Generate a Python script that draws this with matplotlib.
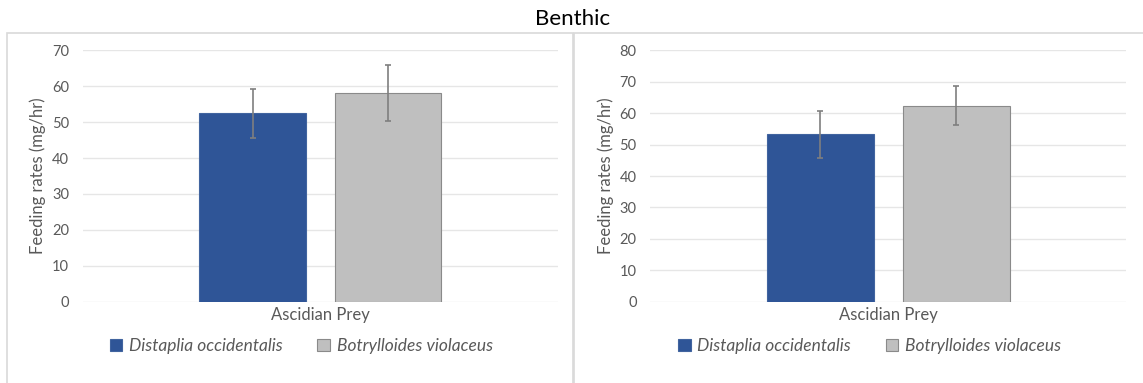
import matplotlib
matplotlib.use("Agg")
import matplotlib.pyplot as plt
import matplotlib.patches as patches
import numpy as np

plt.rcParams['font.family'] = ['Lato', 'DejaVu Sans']

# data
categories = ["Ascidian Prey"]
species = ["Distaplia occidentalis", "Botrylloides violaceus"]
left_means = [52.5, 58.0]
left_err = [6.8, 7.8]
right_means = [53.3, 62.3]
right_err = [7.5, 6.2]
left_ylim = 70
right_ylim = 80

bar_colors = ["#2f5597", "#bfbfbf"]
edge_colors = ["#41649f", "#8a8a8a"]
text_color = "#595959"

fig = plt.figure(figsize=(11.43, 3.83), dpi=100)
W, H = 1143, 383

# panel frames
fig.patches.append(patches.Rectangle((7 / W, -0.1), (573 - 7) / W, 1 - 33 / H + 0.1,
                                     transform=fig.transFigure, fill=False,
                                     edgecolor="#d9d9d9", linewidth=1.2))
fig.patches.append(patches.Rectangle((573.7 / W, -0.1), 0.6, 1 - 33 / H + 0.1,
                                     transform=fig.transFigure, fill=False,
                                     edgecolor="#d9d9d9", linewidth=1.2))

fig.text(573 / W, 1 - 19 / H, "Benthic", ha="center", va="center", fontsize=16, color="black")

bottom = 1 - 301.7 / H
height = 251.4 / H
ax_l = fig.add_axes([83 / W, bottom, 474.5 / W, height])
ax_r = fig.add_axes([650.4 / W, bottom, 475.9 / W, height])

width = 0.2246
offset = 0.1427

for ax, means, errs, ylim, leg_x in [(ax_l, left_means, left_err, left_ylim, 0.46),
                                     (ax_r, right_means, right_err, right_ylim, 0.461)]:
    x = np.arange(len(categories))
    handles = []
    for i, (m, e) in enumerate(zip(means, errs)):
        pos = x + (i - 0.5) * 2 * offset
        b = ax.bar(pos, [m], width=width, color=bar_colors[i], edgecolor=edge_colors[i],
                   linewidth=0.8, label=species[i], zorder=3)
        ax.errorbar(pos, [m], yerr=[e], fmt="none", ecolor="#7f7f7f", elinewidth=1.2,
                    capsize=2.5, capthick=1.2, zorder=4)
        handles.append(b)
    ax.set_xlim(-0.5, 0.5)
    ax.set_ylim(0, ylim)
    ax.set_yticks(np.arange(0, ylim + 1, 10))
    ax.set_xticks(x)
    ax.set_xticklabels(categories, fontsize=12)
    ax.grid(axis="y", color="#e6e6e6", linewidth=1.0, zorder=0)
    ax.set_axisbelow(True)
    for s in ax.spines.values():
        s.set_visible(False)
    ax.tick_params(axis="both", length=0, colors=text_color)
    ax.tick_params(axis="y", pad=10, labelsize=10.5)
    ax.tick_params(axis="x", pad=4)
    ax.set_ylabel("Feeding rates (mg/hr)", fontsize=12, color=text_color, labelpad=4)
    leg = ax.legend(handles=handles, loc="center", bbox_to_anchor=(leg_x, -0.175), ncol=2,
                    frameon=False, handlelength=0.7, handleheight=0.7, handletextpad=0.4,
                    columnspacing=2.0, prop={"style": "italic", "size": 12.5})
    for t in leg.get_texts():
        t.set_color(text_color)

fig.savefig("out.png", dpi=100)
